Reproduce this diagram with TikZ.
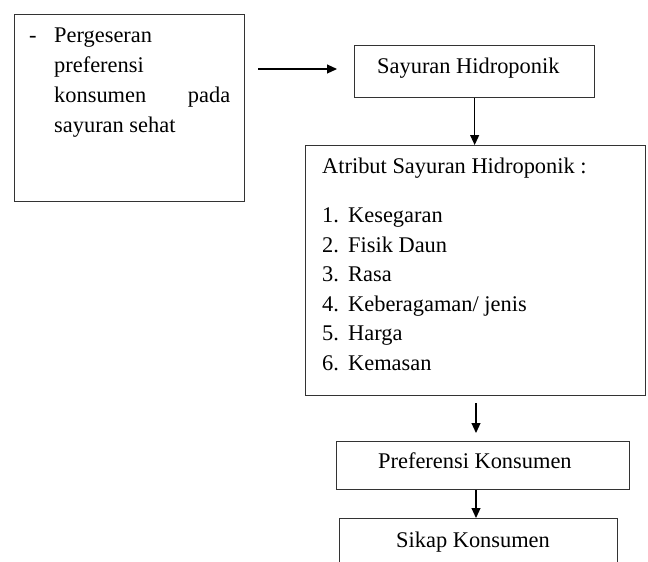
\documentclass[tikz,border=0pt]{standalone}
\usepackage{fontspec}
\setmainfont{Liberation Serif}
\usetikzlibrary{positioning, arrows.meta}
\newcommand{\fsz}{\fontsize{22.4pt}{29.6pt}\selectfont}

\begin{document}
\begin{tikzpicture}[x=1pt, y=-1pt,
    box/.style={draw=black!80, line width=1.3pt, anchor=north west, inner sep=0pt},
    arr/.style={draw=black, line width=1.1pt, -{Triangle[length=10pt, width=9pt]}},
    txt/.style={anchor=base west, inner sep=0pt, font=\fsz}]
    \useasboundingbox (0,0) rectangle (648,562);
    \clip (0,0) rectangle (648,562);

    \node[box, minimum width=230pt, minimum height=187pt] (shift) at (14,14) {};
    \node[box, minimum width=240pt, minimum height=52pt]  (say)   at (354,45) {};
    \node[box, minimum width=340pt, minimum height=250pt] (attr)  at (305,145) {};
    \node[box, minimum width=293pt, minimum height=48pt]  (pref)  at (336,441) {};
    \node[box, minimum width=278pt, minimum height=70pt]  (sikap) at (339,518) {};

    \coordinate (a1) at (0,69);
    \coordinate (a3) at (476,0);

    \draw[arr, shorten <=13pt, shorten >=17pt] (shift.east |- a1) -- (say.west |- a1);
    \draw[arr] (say.south) -- (say.south |- attr.north);
    \draw[arr, shorten <=7pt, shorten >=8pt] (attr.south -| a3) -- (pref.north -| a3);
    \draw[arr] (pref.south -| a3) -- (sikap.north -| a3);

    \node[txt] (dash)  at (29,42)  {-};
    \node[txt] (sh1)   at (54,42)  {Pergeseran};
    \node[txt] (sh2)   at (54,72)  {preferensi};
    \node[txt] (sh3)   at (54,102) {\makebox[176pt][s]{konsumen pada}};
    \node[txt] (sh4)   at (54,132) {sayuran sehat};

    \node[txt] (saytx) at (377,73) {Sayuran Hidroponik};

    \node[txt] (attrtx) at (322,173) {Atribut Sayuran Hidroponik :};
    \node[txt] (n1) at (322,222) {1.}; \node[txt] (i1) at (348,222) {Kesegaran};
    \node[txt] (n2) at (322,252) {2.}; \node[txt] (i2) at (348,252) {Fisik Daun};
    \node[txt] (n3) at (322,281) {3.}; \node[txt] (i3) at (348,281) {Rasa};
    \node[txt] (n4) at (322,311) {4.}; \node[txt] (i4) at (348,311) {Keberagaman/ jenis};
    \node[txt] (n5) at (322,340) {5.}; \node[txt] (i5) at (348,340) {Harga};
    \node[txt] (n6) at (322,370) {6.}; \node[txt] (i6) at (348,370) {Kemasan};

    \node[txt] (preftx)  at (378,468) {Preferensi Konsumen};
    \node[txt] (sikaptx) at (396,547) {Sikap Konsumen};
\end{tikzpicture}
\end{document}
